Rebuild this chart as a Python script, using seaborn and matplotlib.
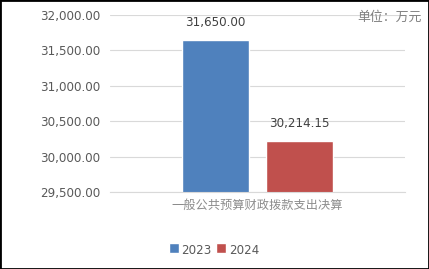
import matplotlib
matplotlib.use("Agg")
import matplotlib.pyplot as plt
import seaborn as sns
import pandas as pd
from matplotlib.patches import Rectangle

categories = ["一般公共预算财政拨款支出决算"]
years = ["2023", "2024"]
values = [31650.00, 30214.15]
value_labels = ["31,650.00", "30,214.15"]
yticks = [29500, 30000, 30500, 31000, 31500, 32000]

df = pd.DataFrame({"cat": categories * 2, "year": years, "value": values})

sns.set_theme(style="white")
plt.rcParams['font.family'] = ['DejaVu Sans', 'Noto Sans CJK SC']

fig = plt.figure(figsize=(4.29, 2.69), dpi=100)
ax = fig.add_axes([110/429, 1-192/269, 295/429, 177/269])

palette = {"2023": "#4F81BD", "2024": "#C0504D"}
sns.barplot(data=df, x="cat", y="value", hue="year", palette=palette,
            width=0.57, gap=0.21, ax=ax, legend=True, saturation=1)

ax.set_ylim(29500, 32000)
ax.set_xlim(-0.5, 0.5)
ax.set_yticks(yticks)
ax.set_yticklabels([f"{v:,.2f}" for v in yticks], fontsize=8.6, color="#595959")
ax.yaxis.grid(True, color="#D9D9D9", linewidth=0.8)
ax.set_axisbelow(True)
for s in ["top", "right", "left"]:
    ax.spines[s].set_visible(False)
ax.spines["bottom"].set_color("#D9D9D9")
ax.spines["bottom"].set_linewidth(0.8)
ax.tick_params(axis="y", length=0, pad=7)
ax.set_xlabel("")
ax.set_ylabel("")
ax.set_xticks([0])
ax.set_xticklabels(categories, fontsize=8.8, color="#8C8C8C", family=['Noto Sans CJK SC'])
ax.tick_params(axis="x", length=0, pad=5)

for cont, lab in zip(ax.containers, value_labels):
    ax.bar_label(cont, labels=[lab], padding=8, fontsize=8.6, color="#404040")

leg = ax.legend(loc="center", bbox_to_anchor=(214/429, 1-250/269), bbox_transform=fig.transFigure,
                ncol=2, frameon=False, fontsize=8.6, handlelength=0.6, handleheight=0.6,
                handletextpad=0.45, columnspacing=0.35)
for t in leg.get_texts():
    t.set_color("#595959")
for h in leg.legend_handles:
    h.set_width(7)
    h.set_height(7)

fig.text(357/429, 1-17/269, "单位：万元", fontsize=9.3, color="#808080",
         family=['Noto Sans CJK SC'], va="center", ha="left")

fig.patches.append(Rectangle((0, 0), 1, 1, transform=fig.transFigure, fill=False,
                             edgecolor="black", linewidth=2))

fig.savefig("out.png", dpi=100)
